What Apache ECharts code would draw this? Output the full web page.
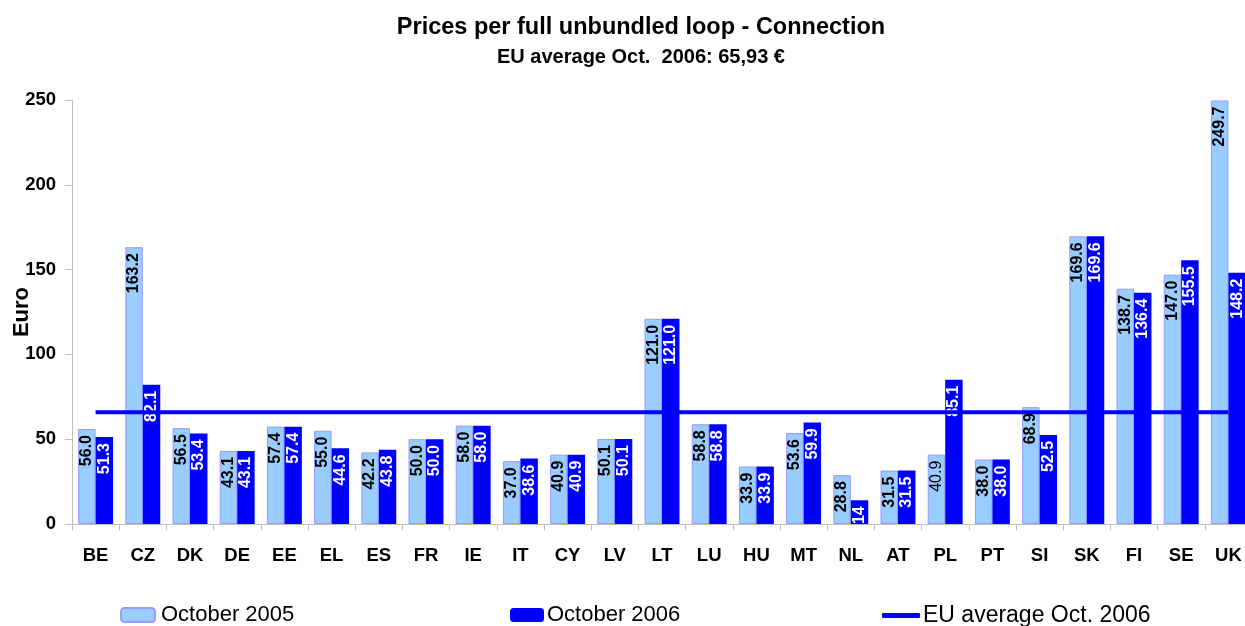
<!DOCTYPE html>
<html>
<head>
<meta charset="utf-8">
<script src="https://cdn.jsdelivr.net/npm/echarts@6/dist/echarts.min.js"></script>
<style>
html,body{margin:0;padding:0;background:#fff;}
#chart{width:1245px;height:626px;}
</style>
</head>
<body>
<div id="chart"></div>
<script>
const categories = ['BE','CZ','DK','DE','EE','EL','ES','FR','IE','IT','CY','LV','LT','LU','HU','MT','NL','AT','PL','PT','SI','SK','FI','SE','UK'];
const oct2005 = ['56.0','163.2','56.5','43.1','57.4','55.0','42.2','50.0','58.0','37.0','40.9','50.1','121.0','58.8','33.9','53.6','28.8','31.5','40.9','38.0','68.9','169.6','138.7','147.0','249.7'];
const oct2006 = ['51.3','82.1','53.4','43.1','57.4','44.6','43.8','50.0','58.0','38.6','40.9','50.1','121.0','58.8','33.9','59.9','14','31.5','85.1','38.0','52.5','169.6','136.4','155.5','148.2'];
const euAverage = 65.93;
const yTicks = [0, 50, 100, 150, 200, 250];

const FONT = '"Liberation Sans", Arial, sans-serif';
const chart = echarts.init(document.getElementById('chart'), null, {renderer: 'canvas'});

const labelBase = {
  show: true, position: 'insideTop', rotate: 90, align: 'right', verticalAlign: 'middle',
  distance: 6, fontFamily: FONT, fontSize: 16, fontWeight: 'bold'
};

const data2005 = oct2005.map((s, i) => {
  const d = {value: Number(s)};
  if (categories[i] === 'PL') d.label = {fontWeight: 'normal'};
  return d;
});

chart.setOption({
  animation: false,
  title: [
    {text: 'Prices per full unbundled loop - Connection', left: 636, textAlign: 'center', top: 11,
     textStyle: {fontFamily: FONT, fontSize: 23.5, fontWeight: 'bold', color: '#000'}},
    {text: 'EU average Oct.  2006: 65,93 €', left: 636, textAlign: 'center', top: 42,
     textStyle: {fontFamily: FONT, fontSize: 20, fontWeight: 'bold', color: '#000'}}
  ],
  legend: [
    {left: 115, top: 599, itemWidth: 34, itemHeight: 14, itemGap: 0, data: ['October 2005'],
     textStyle: {fontFamily: FONT, fontSize: 22, color: '#000', padding: [0,0,0,1]}},
    {left: 505, top: 599, itemWidth: 34, itemHeight: 14, itemGap: 0, data: ['October 2006'],
     textStyle: {fontFamily: FONT, fontSize: 22, color: '#000', padding: [0,0,0,-2]}},
    {left: 877, top: 599, itemWidth: 38, itemHeight: 5, itemGap: 0,
     data: [{name: 'EU average Oct. 2006', icon: 'roundRect'}],
     textStyle: {fontFamily: FONT, fontSize: 23, color: '#000', padding: [0,0,0,-2]}}
  ],
  grid: {left: 72, top: 100, width: 1180, height: 424, containLabel: false, outerBoundsMode: 'none'},
  xAxis: {
    type: 'category', data: categories,
    axisLine: {show: true, lineStyle: {color: '#BFBFBF', width: 1}},
    axisTick: {show: true, alignWithLabel: false, length: 6, lineStyle: {color: '#BFBFBF'}},
    axisLabel: {fontFamily: FONT, fontSize: 18.5, fontWeight: 'bold', color: '#000', margin: 22, interval: 0}
  },
  yAxis: {
    type: 'value', min: yTicks[0], max: yTicks[yTicks.length - 1], interval: 50,
    name: 'Euro', nameLocation: 'middle', nameRotate: 90, nameGap: 39, nameMoveOverlap: false,
    nameTextStyle: {fontFamily: FONT, fontSize: 22, fontWeight: 'bold', color: '#000'},
    axisLine: {show: true, lineStyle: {color: '#BFBFBF', width: 1}},
    axisTick: {show: true, length: 7, lineStyle: {color: '#BFBFBF'}},
    splitLine: {show: false},
    axisLabel: {fontFamily: FONT, fontSize: 18.5, fontWeight: 'bold', color: '#000', margin: 16}
  },
  series: [
    {name: 'October 2005', type: 'bar', data: data2005, barGap: '0%', barCategoryGap: '26%',
     itemStyle: {color: '#99CCFF', borderColor: '#9999FF', borderWidth: 1},
     label: Object.assign({}, labelBase, {color: '#000',
       formatter: p => oct2005[p.dataIndex]}), z: 2},
    {name: 'October 2006', type: 'bar', data: oct2006.map(Number),
     itemStyle: {color: '#0000FF'},
     label: Object.assign({}, labelBase, {color: '#fff',
       formatter: p => oct2006[p.dataIndex]}), z: 2},
    {name: 'EU average Oct. 2006', type: 'line', data: categories.map(() => euAverage),
     showSymbol: false, symbol: 'none', lineStyle: {color: '#0000FF', width: 4},
     itemStyle: {color: '#0000FF'}, z: 5}
  ]
});
</script>
</body>
</html>
